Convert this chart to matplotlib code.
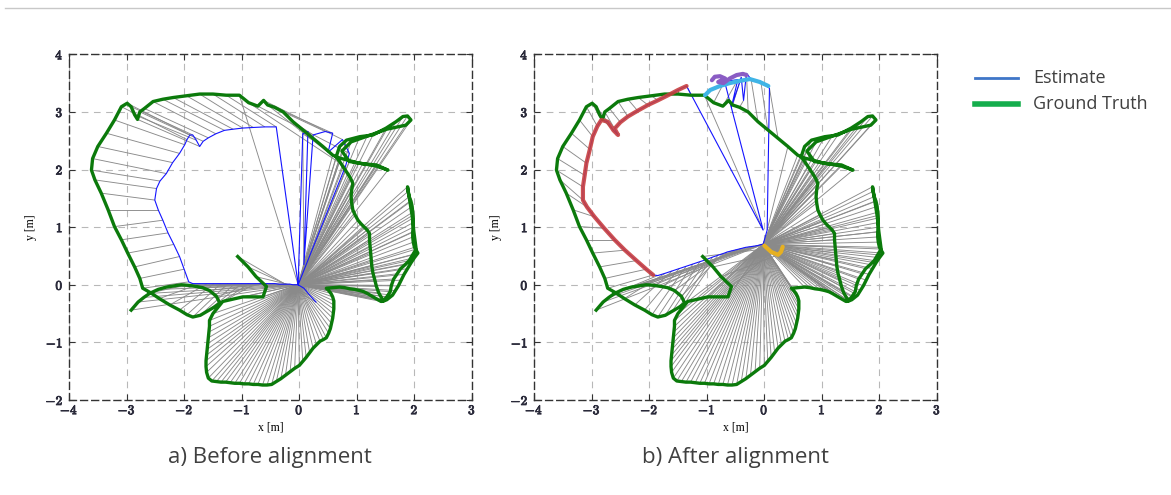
import matplotlib.pyplot as plt
import matplotlib.patheffects as pe
import numpy as np
from matplotlib.collections import LineCollection
from matplotlib.lines import Line2D

plt.rcParams["mathtext.fontset"] = "cm"

# ground truth trajectory (same in both panels)
gt_x = [
    # inner start
    -1.07, -0.89, -0.75, -0.57, -0.63, -0.98, -1.33, -1.50,
    # bottom lobe
    -1.56, -1.56, -1.57, -1.58, -1.59, -1.60, -1.61, -1.62, -1.62, -1.61, -1.58, -1.52, -1.44,
    -1.36, -1.28, -1.20, -1.12, -1.04, -0.96, -0.88, -0.80, -0.72, -0.64, -0.56, -0.48, -0.40,
    -0.32, -0.24, -0.16, -0.08, 0.00, 0.06, 0.12, 0.18, 0.24, 0.30, 0.36, 0.42, 0.47, 0.51, 0.54,
    0.56, 0.58, 0.59, 0.60, 0.60, 0.60, 0.58, 0.55, 0.51, 0.47,
    # right lobes
    0.70, 0.79, 0.88, 0.96, 1.05, 1.12, 1.18, 1.23, 1.28, 1.35, 1.42, 1.47, 1.52, 1.57, 1.62, 1.67,
    1.72, 1.77, 1.82, 1.88, 1.94, 2.00, 2.06, 2.00, 1.98, 1.97, 1.97, 1.98, 1.98, 1.98, 1.97, 1.96,
    1.94, 1.91, 1.89, 1.88, 1.92, 1.96, 1.99, 2.03, 1.97, 1.91, 1.84, 1.76, 1.70, 1.64, 1.60, 1.58,
    1.52, 1.46, 1.38, 1.34, 1.31, 1.28, 1.26, 1.25, 1.24, 1.23, 1.22, 1.22, 1.18, 1.13, 1.07, 1.02,
    0.97, 0.93, 0.91, 0.90, 0.91, 0.93, 0.89, 0.84, 0.80, 0.76, 0.70, 0.64,
    # upper right lobe
    0.70, 0.82, 1.05, 1.28, 1.51, 1.68, 1.80, 1.88, 1.94, 1.85, 1.52, 1.18, 0.90, 0.74, 0.87, 1.10,
    1.34, 1.54, 1.34, 1.00, 0.70, 0.58,
    # top
    0.41, 0.24, 0.06, -0.11, -0.28, -0.43, -0.55, -0.62, -0.72, -0.88, -1.04,
    # left lobe
    -1.27, -1.50, -1.73, -1.96, -2.19, -2.37, -2.54, -2.69, -2.77, -2.81, -2.86, -2.92, -2.99, -3.09,
    -3.21, -3.35, -3.50, -3.59, -3.61, -3.55, -3.44, -3.32, -3.21, -3.09, -2.98, -2.86, -2.77, -2.72,
    # bottom left
    -2.58, -2.43, -2.25, -2.08, -1.95, -1.85, -1.72, -1.60, -1.48, -1.38,
    -1.44, -1.56, -1.68, -1.79, -1.92, -2.05, -2.18, -2.31, -2.45, -2.60, -2.70, -2.80, -2.92,
]
gt_y = [
    0.49, 0.31, 0.14, -0.03, -0.21, -0.21, -0.29, -0.50,
    -0.62, -0.72, -0.82, -0.92, -1.02, -1.12, -1.22, -1.32, -1.42, -1.52, -1.62, -1.67, -1.68,
    -1.69, -1.69, -1.70, -1.71, -1.71, -1.72, -1.72, -1.73, -1.73, -1.74, -1.74, -1.73, -1.68,
    -1.63, -1.57, -1.51, -1.45, -1.40, -1.33, -1.26, -1.18, -1.10, -1.04, -0.98, -0.95, -0.92, -0.84, -0.76,
    -0.67, -0.58, -0.50, -0.42, -0.35, -0.28, -0.21, -0.15, -0.10, -0.06,
    -0.04, -0.05, -0.07, -0.08, -0.10, -0.12, -0.15, -0.18, -0.21, -0.25, -0.29, -0.28, -0.26, -0.22, -0.18, -0.10,
    -0.02, 0.08, 0.18, 0.28, 0.38, 0.47, 0.55, 0.65, 0.74, 0.83, 0.92, 1.00, 1.08, 1.16, 1.26, 1.36,
    1.45, 1.53, 1.62, 1.70, 1.45, 1.20, 0.92, 0.62, 0.52, 0.42, 0.35, 0.28, 0.19, 0.10, -0.01, -0.12,
    -0.21, -0.28, -0.14, -0.03, 0.09, 0.20, 0.32, 0.43, 0.55, 0.66, 0.78, 0.89, 0.95, 1.00, 1.06, 1.12,
    1.21, 1.30, 1.42, 1.53, 1.65, 1.76, 1.85, 1.93, 1.99, 2.05, 2.14, 2.22,
    2.40, 2.51, 2.57, 2.60, 2.72, 2.83, 2.92, 2.93, 2.86, 2.77, 2.70, 2.58, 2.48, 2.32, 2.14, 2.10,
    2.08, 1.99, 2.06, 2.12, 2.20, 2.25,
    2.40, 2.54, 2.69, 2.83, 3.00, 3.08, 3.12, 3.20, 3.10, 3.16, 3.29,
    3.29, 3.31, 3.31, 3.28, 3.25, 3.22, 3.18, 3.06, 3.00, 2.87, 2.95, 3.09, 3.15, 3.09,
    2.86, 2.63, 2.40, 2.19, 1.99, 1.82, 1.59, 1.30, 1.01, 0.78, 0.55, 0.31, 0.11, -0.06,
    -0.14, -0.24, -0.35, -0.44, -0.52, -0.56, -0.53, -0.46, -0.39, -0.32,
    -0.20, -0.10, -0.05, -0.03, -0.01, 0.00, -0.02, -0.04, -0.08, -0.15, -0.22, -0.30, -0.44,
]

# estimate before alignment: key poses and how many ground-truth samples each one covers
est_a_x = [
    0.29, 0.18, 0.08, -0.02,
    0.06, 0.15, 0.08, 0.24, 0.45, 0.58, 0.50, 0.75, 0.87, 0.80, -0.02,
    -0.40, -0.60, -0.80, -0.98, -1.15, -1.30, -1.45, -1.58, -1.67, -1.73, -1.79, -1.85, -1.90, -1.95,
    -1.99, -2.08, -2.20, -2.31, -2.42, -2.48, -2.51, -2.45, -2.37, -2.28, -2.18, -2.08, -2.00, -1.92,
    -1.85, -1.72, -1.60, -1.48, -1.36, -1.24, -1.12, -1.00, -0.88, -0.76, -0.66, -0.58,
    -0.50, -0.42, -0.35, -0.28, -0.22, -0.16, -0.11, -0.07, -0.04, -0.03, -0.02,
]
est_a_y = [
    -0.30, -0.18, -0.06, 0.00,
    2.62, 2.66, 0.35, 2.60, 2.66, 2.63, 2.30, 2.52, 2.28, 2.05, 0.00,
    2.74, 2.74, 2.73, 2.72, 2.70, 2.68, 2.62, 2.55, 2.49, 2.40, 2.51, 2.60, 2.60, 2.52,
    2.43, 2.28, 2.12, 1.93, 1.80, 1.67, 1.47, 1.30, 1.12, 0.90, 0.70, 0.49, 0.27, 0.05,
    0.02, 0.02, 0.02, 0.02, 0.02, 0.02, 0.02, 0.02, 0.02, 0.02, 0.02, 0.02,
    0.02, 0.02, 0.01, 0.01, 0.01, 0.01, 0.00, 0.00, 0.00, 0.00, 0.00,
]
est_a_hold = {3: 154}

# estimate after alignment
est_b_x = [
    0.32, 0.29, 0.24, 0.12, 0.00,
    -0.02,
    0.05, 0.09, -0.06, -0.23, -0.31, -0.36, -0.40, -0.57, -0.46, -0.69, -0.02,
    -1.35, -1.50, -1.67, -1.85, -2.02, -2.20, -2.37, -2.50, -2.60, -2.54, -2.62, -2.72, -2.83, -2.90,
    -2.98, -3.03, -3.09, -3.12, -3.15, -3.15, -3.08, -2.95, -2.78, -2.60, -2.42, -2.22, -2.05, -1.93,
    -1.85, -1.72, -1.60, -1.48, -1.36, -1.24, -1.12, -1.00, -0.90, -0.81, -0.72, -0.64,
    -0.56, -0.48, -0.40, -0.32, -0.25, -0.18, -0.12, -0.08, -0.05, -0.03, -0.02,
]
est_b_y = [
    0.66, 0.57, 0.52, 0.57, 0.68,
    0.70,
    0.95, 3.41, 3.53, 3.57, 3.67, 3.20, 3.60, 3.09, 3.56, 3.53, 0.95,
    3.45, 3.38, 3.29, 3.20, 3.12, 3.02, 2.92, 2.82, 2.71, 2.60, 2.68, 2.83, 2.86, 2.75,
    2.57, 2.35, 2.11, 1.90, 1.70, 1.47, 1.35, 1.18, 0.98, 0.78, 0.60, 0.42, 0.27, 0.17,
    0.16, 0.20, 0.24, 0.28, 0.32, 0.36, 0.40, 0.44, 0.48, 0.51, 0.54, 0.57,
    0.59, 0.61, 0.63, 0.65, 0.66, 0.67, 0.68, 0.69, 0.70, 0.70, 0.70,
]
est_b_hold = {5: 152}
yellow_span = (0, 5)
red_span = (17, 45)

# separately coloured pieces near the top of panel b
cyan_x = [-1.03, -0.94, -0.77, -0.60, -0.42, -0.25, -0.08, 0.07]
cyan_y = [3.29, 3.38, 3.45, 3.50, 3.54, 3.57, 3.52, 3.45]
purple_x = [-0.91, -0.86, -0.77, -0.68, -0.80, -0.71, -0.60, -0.48, -0.37, -0.31]
purple_y = [3.55, 3.61, 3.62, 3.58, 3.52, 3.50, 3.58, 3.64, 3.66, 3.64]

ticks_x = [-4, -3, -2, -1, 0, 1, 2, 3]
ticks_y = [-2, -1, 0, 1, 2, 3, 4]

GREEN = "#0b7a0b"
BLUE = "#1414ff"
GRAY = "#8a8a8a"
TICK_FX = [pe.withStroke(linewidth=0.6, foreground="#2a2a3a")]


def draw_panel(ax, ex, ey, hold):
    ex = np.asarray(ex)
    ey = np.asarray(ey)
    counts = [hold.get(i, 1) for i in range(len(ex))]
    link = np.repeat(np.arange(len(ex)), counts)
    gt = np.column_stack([gt_x, gt_y])
    est = np.column_stack([ex[link], ey[link]])
    segs = np.stack([gt, est], axis=1)
    ax.add_collection(LineCollection(segs, colors=GRAY, linewidths=0.65, zorder=2))
    ax.plot(ex, ey, color=BLUE, lw=0.8, zorder=3)
    ax.plot(gt_x, gt_y, color=GREEN, lw=2.4, zorder=4, solid_joinstyle="round")

    ax.set_xlim(-4, 3)
    ax.set_ylim(-2, 4)
    ax.set_xticks(ticks_x)
    ax.set_yticks(ticks_y)
    ax.set_xticklabels([rf"$\mathbf{{{v}}}$" for v in ticks_x], fontsize=9.5)
    ax.set_yticklabels([rf"$\mathbf{{{v}}}$" for v in ticks_y], fontsize=9.5)
    for lab in ax.get_xticklabels() + ax.get_yticklabels():
        lab.set_path_effects(TICK_FX)
    ax.tick_params(direction="in", length=4, width=0.8, top=True, right=True,
                   color="#333333", labelcolor="#2a2a3a")
    ax.tick_params(axis="x", pad=3)
    ax.tick_params(axis="y", pad=4)
    ax.grid(True, color="#b8b8b8", linestyle=(0, (6, 5)), linewidth=0.8, zorder=0)
    ax.set_axisbelow(True)
    for sp in ax.spines.values():
        sp.set_linestyle((0, (5, 3)))
        sp.set_color("#333333")
        sp.set_linewidth(1.0)
    ax.set_xlabel("x [m]", fontsize=8.5, family="Liberation Serif", labelpad=3)
    ax.set_ylabel("y [m]", fontsize=8.5, family="Liberation Serif", labelpad=6)


fig = plt.figure(figsize=(11.71, 4.95), dpi=100)
fig.patch.set_facecolor("white")

ax_a = fig.add_axes([69 / 1171, 95 / 495, 403 / 1171, 345.7 / 495])
ax_b = fig.add_axes([534 / 1171, 95 / 495, 403 / 1171, 345.7 / 495])

draw_panel(ax_a, est_a_x, est_a_y, est_a_hold)
draw_panel(ax_b, est_b_x, est_b_y, est_b_hold)

r0, r1 = red_span
ax_b.plot(est_b_x[r0:r1], est_b_y[r0:r1], color="#c84040", lw=3, alpha=0.9,
          solid_capstyle="round", zorder=5)
y0, y1 = yellow_span
ax_b.plot(est_b_x[y0:y1], est_b_y[y0:y1], color="#e6b022", lw=3,
          solid_capstyle="round", zorder=5)
ax_b.plot(cyan_x, cyan_y, color="#3fb4e6", lw=3, solid_capstyle="round", zorder=5)
ax_b.plot(purple_x, purple_y, color="#8a5cc4", lw=3, solid_capstyle="round", zorder=5)

# captions
cap_font = dict(fontsize=16, family="Open Sans", color="#404040", ha="center", va="center")
fig.text(270 / 1171, 1 - 458 / 495, "a) Before alignment", **cap_font)
fig.text(736 / 1171, 1 - 458 / 495, "b) After alignment", **cap_font)

# legend drawn by hand to match the side panel
leg = [("Estimate", "#3f76c8", 2.0, 78), ("Ground Truth", "#14ad4c", 4.0, 104)]
for label, col, lw, ypx in leg:
    yy = 1 - ypx / 495
    fig.add_artist(Line2D([975 / 1171, 1018 / 1171], [yy, yy], color=col, lw=lw))
    fig.text(1033 / 1171, yy, label, fontsize=13, family="Open Sans",
             color="#404040", va="center", ha="left")

# thin frame line along the top of the picture
fig.add_artist(Line2D([5 / 1171, 1.0], [1 - 8 / 495, 1 - 8 / 495], color="#c8c8c8", lw=1))

fig.savefig("out.png", dpi=100, facecolor=fig.get_facecolor())
